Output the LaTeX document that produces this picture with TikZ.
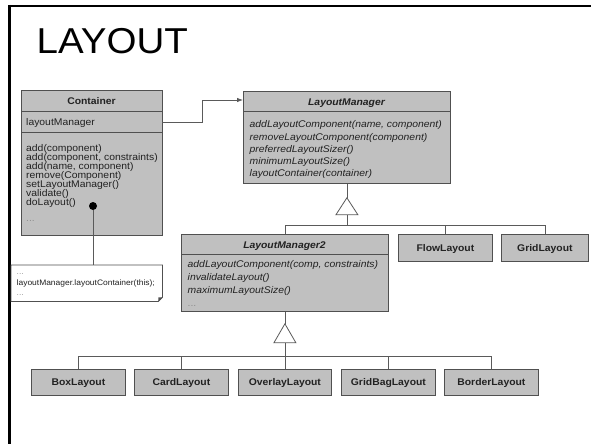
\documentclass[tikz,border=0pt]{standalone}
\usepackage{fontspec}
\setmainfont{Liberation Sans}[FakeStretch=1.07]
\usetikzlibrary{arrows.meta}

\definecolor{boxfill}{HTML}{C0C0C0}
\definecolor{boxline}{HTML}{505050}
\definecolor{wire}{HTML}{5A5A5A}
\definecolor{ink}{HTML}{222222}
\definecolor{dotgray}{HTML}{909090}

\begin{document}
\begin{tikzpicture}[x=1pt,y=-1pt,
  font=\fontsize{9.7}{11}\selectfont, text=ink,
  umlbox/.style={draw=boxline, fill=boxfill, line width=0.8pt, inner sep=0pt, anchor=north west},
  leafbox/.style={umlbox, font=\fontsize{9.7}{11}\selectfont\bfseries, text height=8pt, text depth=1pt},
  sep/.style={draw=boxline, line width=0.8pt},
  wire/.style={draw=wire, line width=0.8pt},
  txt/.style={anchor=base west, inner sep=0pt},
  hdr/.style={anchor=base, inner sep=0pt, font=\fontsize{9.7}{11}\selectfont\bfseries},
  ahdr/.style={anchor=base, inner sep=0pt, font=\fontsize{9.7}{11}\selectfont\bfseries\itshape},
  op/.style={txt, font=\fontsize{9.7}{11}\selectfont\itshape},
  more/.style={txt, text=dotgray},
  notetxt/.style={txt, font=\fontsize{7.9}{9}\selectfont},
  gentri/.style={draw=wire, fill=white, line width=0.8pt, line join=miter},
  frame/.style={draw=black, line width=2.4pt}
]
\useasboundingbox (0,0) rectangle (591,444);
\fill[white] (0,0) rectangle (591,444);

% slide frame and title
\draw[frame] (8,6.2) -- (591,6.2);
\draw[frame] (9.4,5) -- (9.4,444);
\node[anchor=base west, inner sep=0pt, text=black, font=\fontsize{36}{40}\selectfont] (title) at (36.5,53) {LAYOUT};

% Container class
\node[umlbox, minimum width=141pt, minimum height=145pt] (cont) at (21,90) {};
\draw[sep] (21,111) -- (162,111);
\draw[sep] (21,132) -- (162,132);
\node[hdr] (contname) at (91.5,104) {Container};
\node[txt] (contattr) at (26,125) {layoutManager};
\foreach \m [count=\i from 0] in {add(component), {add(component, constraints)}, {add(name, component)},
    remove(Component), setLayoutManager(), validate(), doLayout()}
  \node[txt] (contop\i) at (26,{151.5+9.05*\i}) {\m};
\node[more] (contmore) at (26,221) {...};

% LayoutManager interface
\node[umlbox, minimum width=207pt, minimum height=92pt] (lm) at (243,91) {};
\draw[sep] (243,111) -- (450,111);
\node[ahdr] (lmname) at (346.5,105) {LayoutManager};
\foreach \m [count=\i from 0] in {{addLayoutComponent(name, component)}, removeLayoutComponent(component),
    preferredLayoutSizer(), minimumLayoutSize(), layoutContainer(container)}
  \node[op] (lmop\i) at (249.5,{127.8+12.25*\i}) {\m};

% LayoutManager2 interface
\node[umlbox, minimum width=207pt, minimum height=77pt] (lm2) at (181,234) {};
\draw[sep] (181,254) -- (388,254);
\node[ahdr] (lm2name) at (284.5,248) {LayoutManager2};
\foreach \m [count=\i from 0] in {{addLayoutComponent(comp, constraints)}, invalidateLayout(), maximumLayoutSize()}
  \node[op] (lm2op\i) at (187.5,{267.8+12.85*\i}) {\m};
\node[more] (lm2more) at (187.5,306) {...};

% direct LayoutManager implementations
\node[leafbox, minimum width=94pt, minimum height=27pt] (flow) at (398,234) {FlowLayout};
\node[leafbox, minimum width=87pt, minimum height=27pt] (grid) at (501,234) {GridLayout};

% LayoutManager2 implementations
\node[leafbox, minimum width=94pt, minimum height=26pt] (boxl) at (31,369) {BoxLayout};
\node[leafbox, minimum width=94pt, minimum height=26pt] (card) at (134,369) {CardLayout};
\node[leafbox, minimum width=93pt, minimum height=26pt] (overlay) at (238,369) {OverlayLayout};
\node[leafbox, minimum width=94pt, minimum height=26pt] (gridbag) at (341,369) {GridBagLayout};
\node[leafbox, minimum width=94pt, minimum height=26pt] (border) at (444,369) {BorderLayout};

% association Container -> LayoutManager
\coordinate (assocA) at (162,122);
\coordinate (elbow) at (202,100);
\draw[wire, -{Latex[length=6pt,width=4.5pt]}] (assocA) -| (elbow) -- (lm.west |- elbow);

% generalization to LayoutManager
\path (lm.south) ++(0,14) coordinate (g1apex) ++(0,17) coordinate (g1base) ++(0,11) coordinate (bus1);
\draw[wire] (lm.south) -- (g1apex);
\draw[wire] (g1base) -- (bus1);
\draw[wire] (lm2.north) |- (bus1);
\draw[wire] (flow.north) |- (bus1);
\draw[wire] (grid.north) |- (bus1);
\draw[gentri] (g1apex) -- ++(-11,17) -- ++(22,0) -- cycle;

% generalization to LayoutManager2
\path (lm2.south) ++(0,12) coordinate (g2apex) ++(0,19) coordinate (g2base) ++(0,14) coordinate (bus2);
\draw[wire] (lm2.south) -- (g2apex);
\draw[wire] (g2base) -- (bus2);
\draw[wire] (overlay.north) -- (bus2);
\foreach \n in {boxl, card, gridbag, border}
  \draw[wire] (\n.north) |- (bus2);
\draw[gentri] (g2apex) -- ++(-11,19) -- ++(22,0) -- cycle;

% note attached to doLayout()
\node[inner sep=0pt, minimum width=151pt, minimum height=36pt, anchor=north west] (note) at (11,265) {};
\draw[draw=boxline, fill=white, line width=0.8pt] (note.north west) -- (note.north east)
  -- ([yshift=4pt]note.south east) -- ([xshift=-4pt]note.south east) -- (note.south west) -- cycle;
\fill[boxline] ([yshift=4pt]note.south east) -- ([xshift=-4pt]note.south east)
  -- ([xshift=-4pt,yshift=4pt]note.south east) -- cycle;
\node[notetxt, text=dotgray] (notedots1) at (16.5,274) {...};
\node[notetxt] (notecall) at (16.5,285) {layoutManager.layoutContainer(this);};
\node[notetxt, text=dotgray] (notedots2) at (16.5,295) {...};

\node[circle, fill=black, inner sep=0pt, minimum size=8pt] (dot) at (93,206) {};
\draw[wire] (dot.south) -- (dot |- note.north);
\end{tikzpicture}
\end{document}
